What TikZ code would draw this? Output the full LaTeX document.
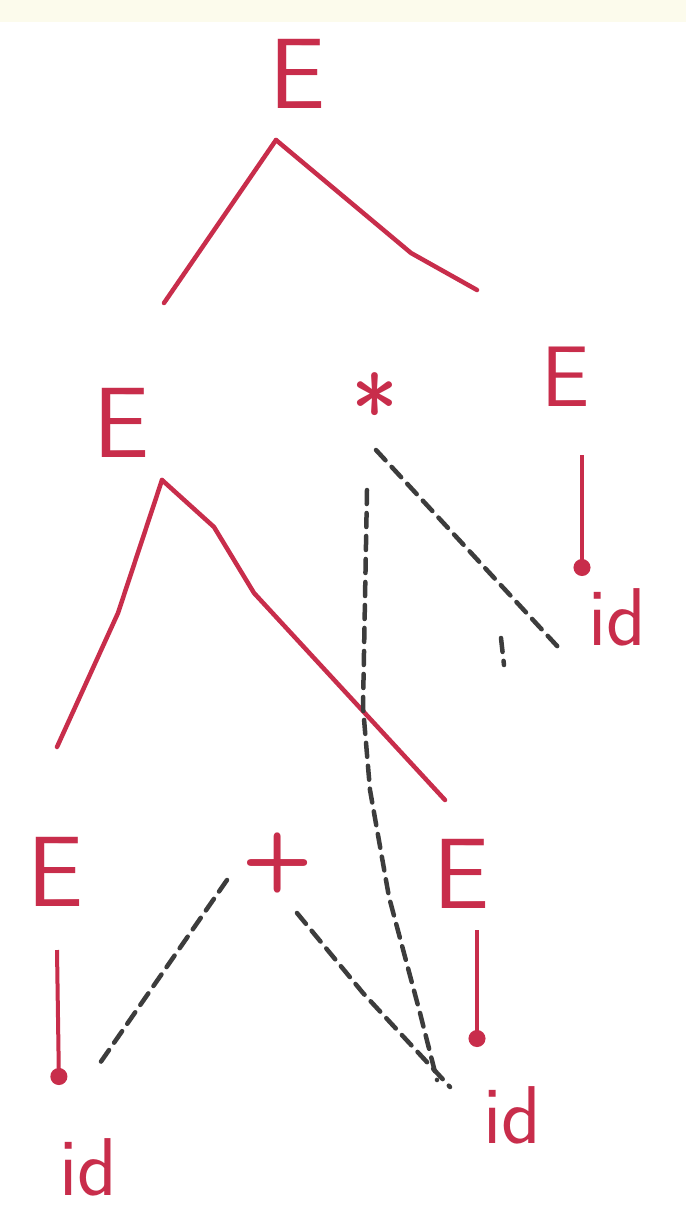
\documentclass[tikz,border=0pt]{standalone}
\usetikzlibrary{arrows.meta,calc}
\definecolor{ink}{RGB}{200,45,75}
\definecolor{pencil}{RGB}{60,60,60}
\definecolor{paper}{RGB}{252,251,236}
\begin{document}
\begin{tikzpicture}[x=1pt,y=-1pt,
  sym/.style={text=ink,font=\sffamily\fontsize{100}{100}\selectfont,inner sep=0pt},
  idlab/.style={text=ink,font=\sffamily\fontsize{82}{82}\selectfont,inner sep=0pt},
  branch/.style={draw=ink,line width=4.5pt,line cap=round,line join=round},
  deriv/.style={draw=ink,line width=4pt,-{Circle[length=17pt]}},
  trace/.style={draw=pencil,line width=4.5pt,dash pattern=on 14pt off 9pt,line cap=round}]
\fill[white] (0,0) rectangle (686,1209);
\fill[paper] (0,0) rectangle (686,22);
\useasboundingbox (0,0) rectangle (686,1209);

% symbols
\node[sym] (E0) at (298,74) {E};
\node[sym] (E1) at (122,423) {E};
\node[sym,anchor=north] (star) at (375,372) {*};
\node[sym,font=\sffamily\fontsize{86}{86}\selectfont] (E2) at (566,377) {E};
\node[idlab] (idR) at (617,617) {id};
\node[sym] (E3) at (56,872) {E};
\node[sym,font=\sffamily\bfseries\fontsize{82}{82}\selectfont] (plus) at (278,863) {+};
\node[sym] (E4) at (462,874) {E};
\node[idlab] (idBL) at (88,1167) {id};
\node[idlab] (idBR) at (512,1115) {id};

% anchor points of the hand-drawn strokes
\coordinate (ap0) at (276,140);
\coordinate (l0) at (164,303);
\coordinate (r0a) at (411,253);
\coordinate (r0) at (477,290);
\coordinate (ap1) at (162,480);
\coordinate (l1a) at (118,613);
\coordinate (l1) at (57,747);
\coordinate (r1a) at (214,527);
\coordinate (r1b) at (254,593);
\coordinate (r1) at (445,800);

% red tree branches
\draw[branch] (ap0) -- (l0);
\draw[branch] (ap0) -- (r0a) -- (r0);
\draw[branch] (ap1) -- (l1a) -- (l1);
\draw[branch] (ap1) -- (r1a) -- (r1b) -- (r1);

% derivation arrows
\coordinate (d2s) at (582,455);
\coordinate (d2e) at (582,576);
\coordinate (d3s) at (57,950);
\coordinate (d3e) at (59,1085);
\coordinate (d4s) at (477,930);
\coordinate (d4e) at (477,1047);
\draw[deriv] (d2s) -- (d2e);
\draw[deriv] (d3s) -- (d3e);
\draw[deriv] (d4s) -- (d4e);

% pencil traces
\coordinate (t1s) at (376,450);
\coordinate (t1e) at (558,647);
\coordinate (t2s) at (501,638);
\coordinate (t2e) at (504,665);
\coordinate (t3s) at (367,490);
\coordinate (t3a) at (363,707);
\coordinate (t3b) at (370,790);
\coordinate (t3c) at (389,897);
\coordinate (t3d) at (420,1013);
\coordinate (t3e) at (437,1080);
\coordinate (t4s) at (227,880);
\coordinate (t4e) at (100,1063);
\coordinate (t5s) at (297,913);
\coordinate (t5a) at (363,993);
\coordinate (t5e) at (450,1087);
\draw[trace] (t1s) -- (t1e);
\draw[trace] (t2s) -- (t2e);
\draw[trace] (t3s) -- (t3a) -- (t3b) -- (t3c) -- (t3d) -- (t3e);
\draw[trace] (t4s) -- (t4e);
\draw[trace] (t5s) -- (t5a) -- (t5e);
\end{tikzpicture}
\end{document}
